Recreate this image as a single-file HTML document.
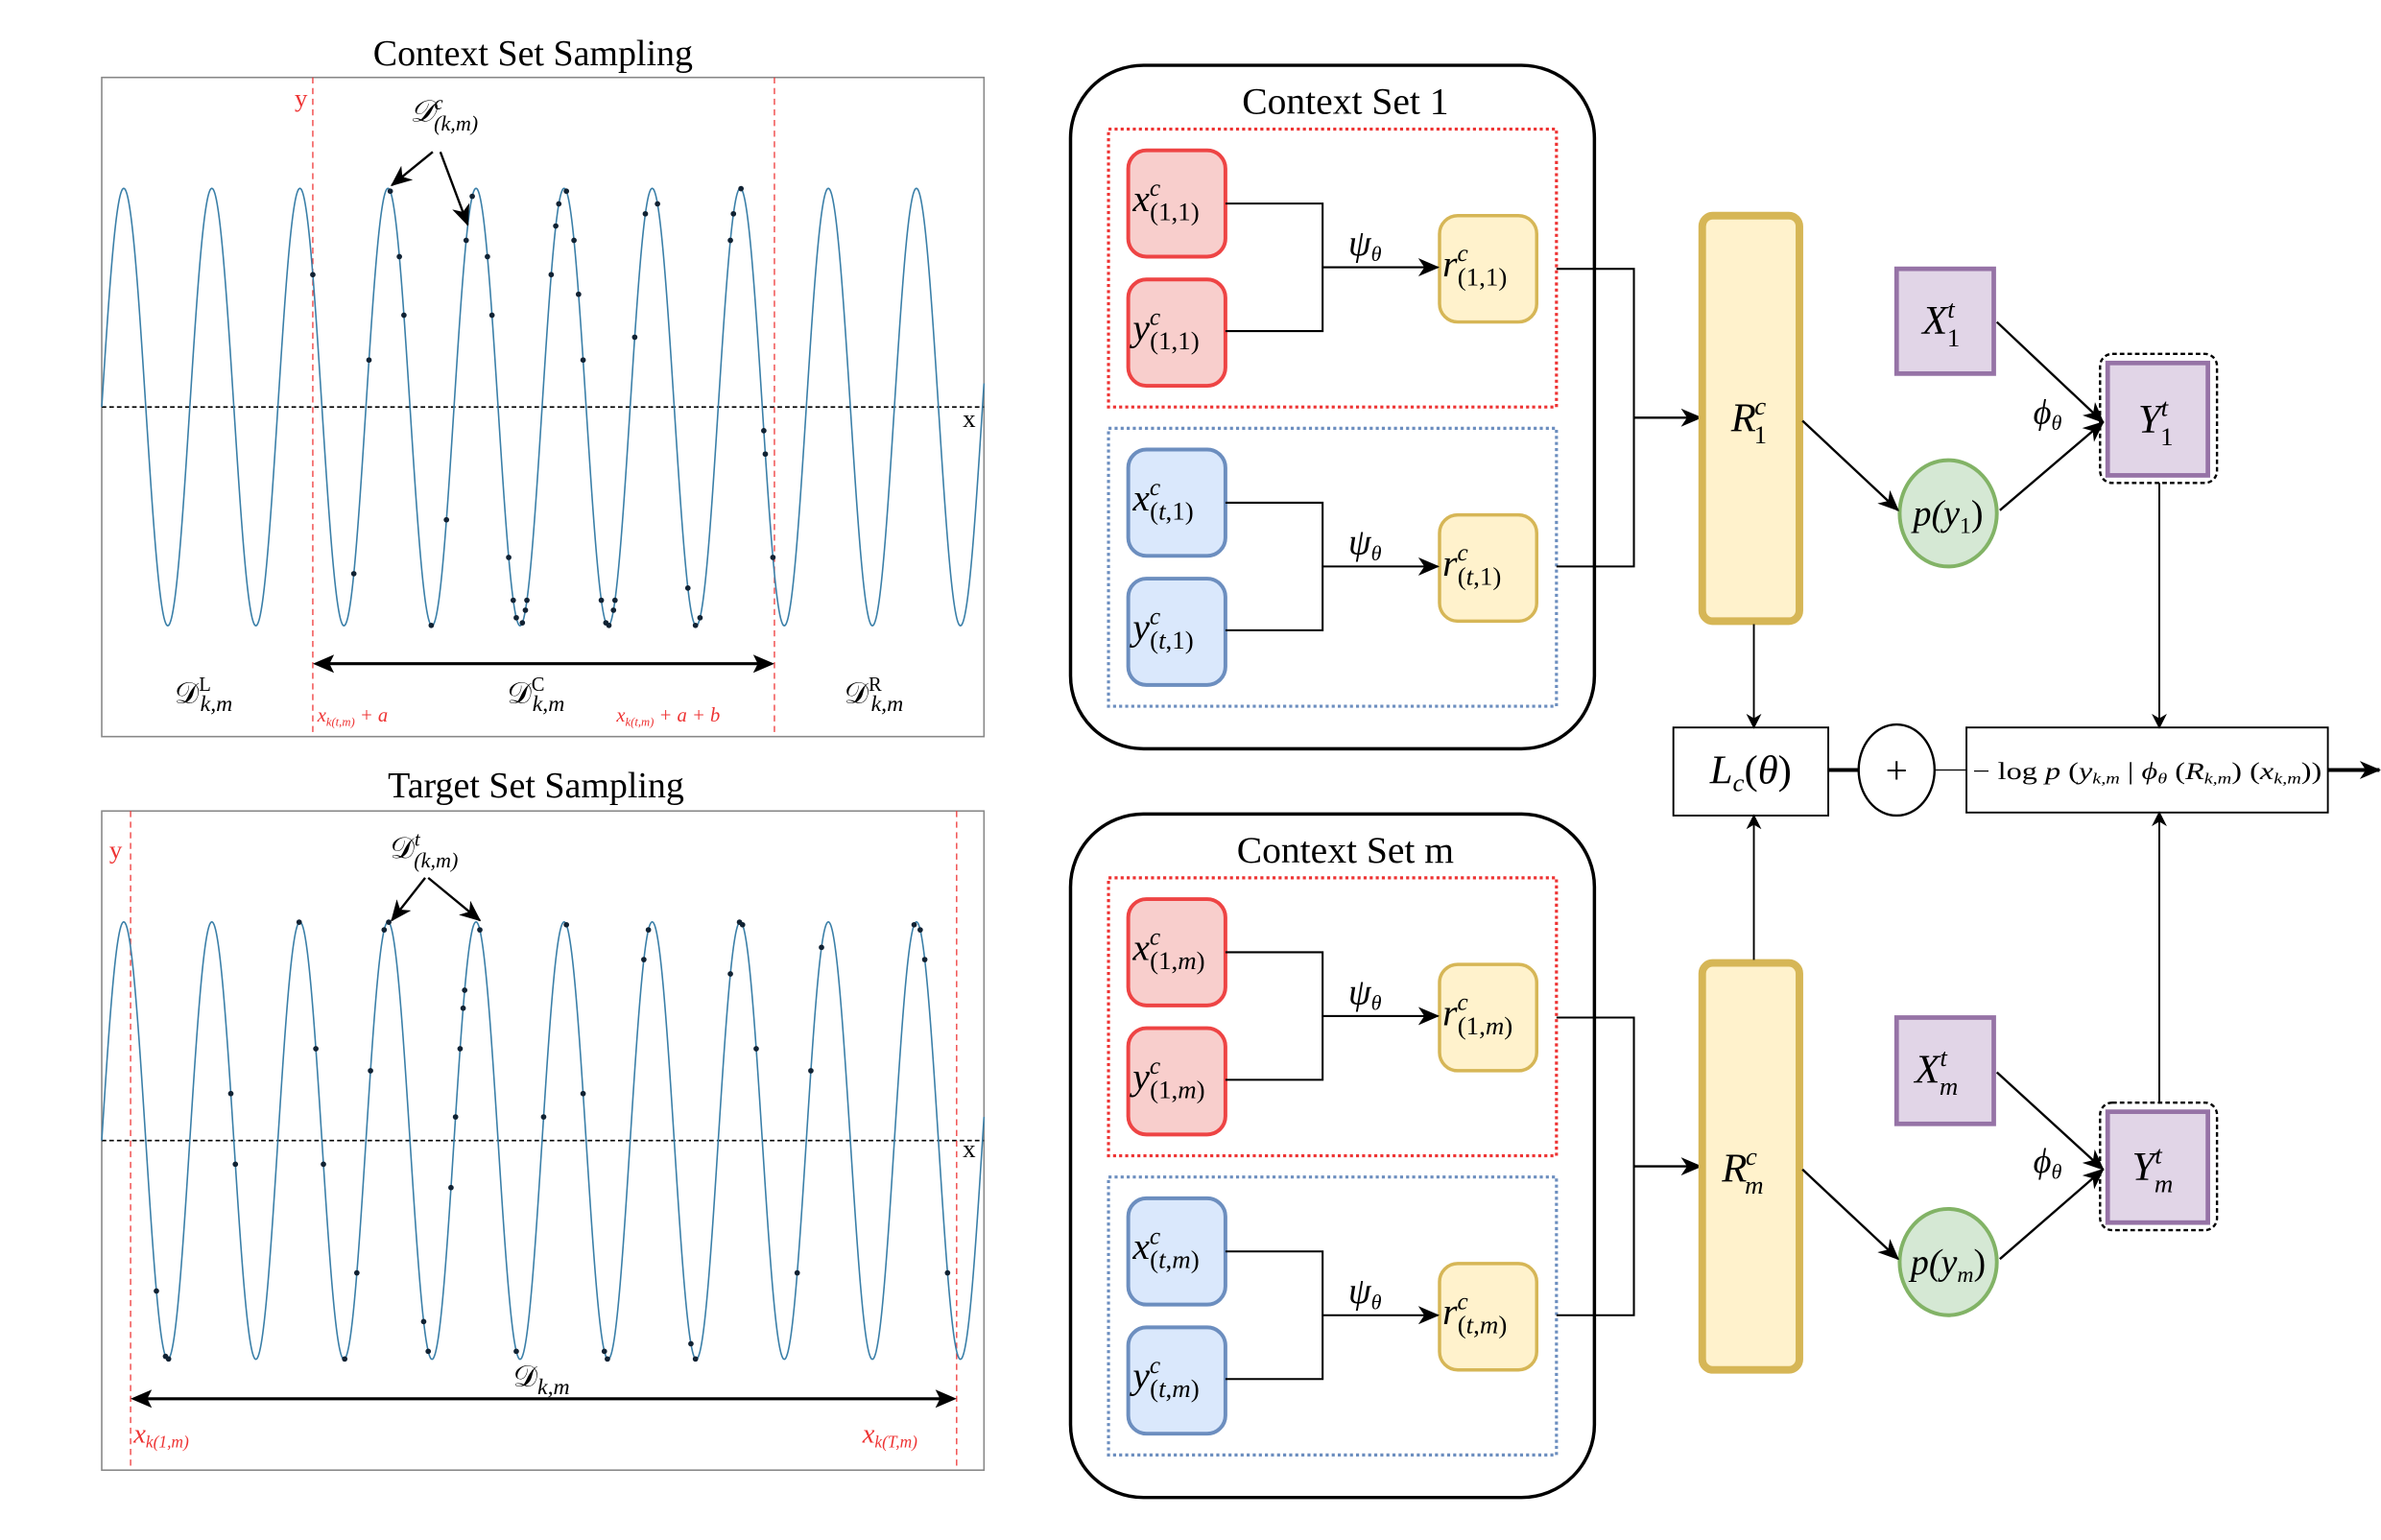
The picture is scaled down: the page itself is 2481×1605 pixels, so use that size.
<!DOCTYPE html>
<html><head><meta charset="utf-8"><style>
html,body{margin:0;padding:0;background:#fff}
svg{display:block}
text{font-family:"Liberation Serif",serif;fill:#000}
.m{font-style:italic}
.u{font-style:normal}
</style></head><body>
<svg id="s" width="2481" height="1605" viewBox="0 0 1568 1014" preserveAspectRatio="none" xmlns="http://www.w3.org/2000/svg">
<defs>
<marker id="a" markerWidth="10" markerHeight="10" refX="9" refY="5" orient="auto" markerUnits="userSpaceOnUse"><path d="M0,0 L10,5 L0,10 L3,5 z" fill="#000"/></marker>
<marker id="b" markerWidth="14" markerHeight="12" refX="13" refY="6" orient="auto" markerUnits="userSpaceOnUse"><path d="M0,0 L14,6 L0,12 L4,6 z" fill="#000"/></marker>
</defs>

<!-- LEFT TOP PLOT -->
<text x="351" y="43" font-size="24" text-anchor="middle">Context Set Sampling</text>
<rect x="67" y="51" width="581" height="434" fill="none" stroke="#888" stroke-width="1"/>
<line x1="67" y1="268" x2="648" y2="268" stroke="#000" stroke-dasharray="3,2" stroke-width="1"/>
<line x1="206" y1="51" x2="206" y2="485" stroke="#e33" stroke-dasharray="4,3" stroke-width="0.8"/>
<line x1="510" y1="51" x2="510" y2="485" stroke="#e33" stroke-dasharray="4,3" stroke-width="0.8"/>
<path id="sin1" fill="none" stroke="#3a7fa8" stroke-width="1"/>
<g id="dots1" fill="#112233"></g>
<text x="194" y="70" font-size="17" style="fill:#e33">y</text>
<text x="634" y="281" font-size="17">x</text>
<text x="270" y="80" font-size="20" class="m">𝒟<tspan font-size="13" dy="-8">c</tspan><tspan font-size="14" dx="-6" dy="14">(k,m)</tspan></text>
<line x1="285" y1="100" x2="258" y2="122" stroke="#000" stroke-width="1.5" marker-end="url(#b)"/>
<line x1="290" y1="100" x2="308" y2="148" stroke="#000" stroke-width="1.5" marker-end="url(#b)"/>
<line x1="216" y1="437" x2="500" y2="437" stroke="#000" stroke-width="2"/>
<path d="M206,437 L220,431 L217,437 L220,443 z M510,437 L496,431 L499,437 L496,443 z" fill="#000"/>
<text x="115" y="463" font-size="20">𝒟<tspan font-size="13" dy="-8">L</tspan><tspan font-size="15" class="m" dx="-7" dy="13">k,m</tspan></text>
<text x="334" y="463" font-size="20">𝒟<tspan font-size="13" dy="-8">C</tspan><tspan font-size="15" class="m" dx="-8" dy="13">k,m</tspan></text>
<text x="556" y="463" font-size="20">𝒟<tspan font-size="13" dy="-8">R</tspan><tspan font-size="15" class="m" dx="-7" dy="13">k,m</tspan></text>
<text x="209" y="475" font-size="13" style="fill:#e33" class="m">x<tspan font-size="8" dy="3">k(t,m)</tspan><tspan dy="-3"> + a</tspan></text>
<text x="406" y="475" font-size="13" style="fill:#e33" class="m">x<tspan font-size="8" dy="3">k(t,m)</tspan><tspan dy="-3"> + a + b</tspan></text>

<!-- LEFT BOTTOM PLOT -->
<text x="353" y="525" font-size="24" text-anchor="middle">Target Set Sampling</text>
<rect x="67" y="534" width="581" height="434" fill="none" stroke="#888" stroke-width="1"/>
<line x1="67" y1="751" x2="648" y2="751" stroke="#000" stroke-dasharray="3,2" stroke-width="1"/>
<line x1="86" y1="534" x2="86" y2="968" stroke="#e33" stroke-dasharray="4,3" stroke-width="0.8"/>
<line x1="630" y1="534" x2="630" y2="968" stroke="#e33" stroke-dasharray="4,3" stroke-width="0.8"/>
<path id="sin2" fill="none" stroke="#3a7fa8" stroke-width="1"/>
<g id="dots2" fill="#112233"></g>
<text x="72" y="565" font-size="17" style="fill:#e33">y</text>
<text x="634" y="762" font-size="17">x</text>
<text x="257" y="565" font-size="20">𝒟<tspan font-size="13" class="m" dy="-8">t</tspan><tspan font-size="14" class="m" dx="-4" dy="14">(k,m)</tspan></text>
<line x1="280" y1="578" x2="258" y2="606" stroke="#000" stroke-width="1.5" marker-end="url(#b)"/>
<line x1="282" y1="578" x2="316" y2="606" stroke="#000" stroke-width="1.5" marker-end="url(#b)"/>
<line x1="96" y1="921" x2="620" y2="921" stroke="#000" stroke-width="2"/>
<path d="M86,921 L100,915 L97,921 L100,927 z M630,921 L616,915 L619,921 L616,927 z" fill="#000"/>
<text x="338" y="913" font-size="20">𝒟<tspan font-size="15" class="m" dy="5">k,m</tspan></text>
<text x="88" y="950" font-size="18" style="fill:#e33" class="m">x<tspan font-size="11" dy="3">k(1,m)</tspan></text>
<text x="568" y="950" font-size="18" style="fill:#e33" class="m">x<tspan font-size="11" dy="3">k(T,m)</tspan></text>

<g id="cs"></g>

<rect x="1121" y="142" width="64" height="267" rx="7" fill="#fff2cc" stroke="#d6b656" stroke-width="5"/>
<text x="1140" y="284" font-size="27" class="m">R<tspan font-size="17" dx="-1" dy="-11">c</tspan><tspan font-size="17" class="u" dx="-8" dy="19">1</tspan></text>
<rect x="1121" y="634" width="64" height="268" rx="7" fill="#fff2cc" stroke="#d6b656" stroke-width="5"/>
<text x="1134" y="778" font-size="27" class="m">R<tspan font-size="17" dx="-1" dy="-11">c</tspan><tspan font-size="17" dx="-8" dy="19">m</tspan></text>

<rect x="1249" y="177" width="64" height="69" fill="#e1d5e7" stroke="#9673a6" stroke-width="3"/>
<text x="1266" y="220" font-size="27" class="m">X<tspan font-size="17" dy="-11">t</tspan><tspan font-size="17" class="u" dx="-5" dy="19">1</tspan></text>
<rect x="1383" y="233" width="77" height="85" rx="8" fill="none" stroke="#000" stroke-dasharray="3,2" stroke-width="1.5"/>
<rect x="1388" y="239" width="66" height="74" fill="#e1d5e7" stroke="#9673a6" stroke-width="3"/>
<text x="1408" y="285" font-size="27" class="m">Y<tspan font-size="17" dy="-11">t</tspan><tspan font-size="17" class="u" dx="-5" dy="19">1</tspan></text>
<ellipse cx="1283" cy="338" rx="32" ry="35" fill="#d5e8d4" stroke="#82b366" stroke-width="2.5"/>
<text x="1283" y="346" font-size="24" text-anchor="middle" class="m">p(y<tspan font-size="15" class="u" dy="5">1</tspan><tspan class="u" dy="-5">)</tspan></text>

<rect x="1249" y="670" width="64" height="70" fill="#e1d5e7" stroke="#9673a6" stroke-width="3"/>
<text x="1261" y="713" font-size="27" class="m">X<tspan font-size="17" dy="-11">t</tspan><tspan font-size="17" dx="-5" dy="19">m</tspan></text>
<rect x="1383" y="726" width="77" height="84" rx="8" fill="none" stroke="#000" stroke-dasharray="3,2" stroke-width="1.5"/>
<rect x="1388" y="732" width="66" height="73" fill="#e1d5e7" stroke="#9673a6" stroke-width="3"/>
<text x="1404" y="777" font-size="27" class="m">Y<tspan font-size="17" dy="-11">t</tspan><tspan font-size="17" dx="-5" dy="19">m</tspan></text>
<ellipse cx="1283" cy="831" rx="32" ry="35" fill="#d5e8d4" stroke="#82b366" stroke-width="2.5"/>
<text x="1283" y="839" font-size="24" text-anchor="middle" class="m">p(y<tspan font-size="15" dy="5">m</tspan><tspan class="u" dy="-5">)</tspan></text>

<g stroke="#000" stroke-width="1.5" fill="none">
<line x1="1187" y1="277" x2="1250" y2="336" marker-end="url(#b)"/>
<line x1="1315" y1="212" x2="1385" y2="278" marker-end="url(#b)"/>
<line x1="1317" y1="336" x2="1385" y2="278" marker-end="url(#b)"/>
<line x1="1187" y1="770" x2="1250" y2="829" marker-end="url(#b)"/>
<line x1="1315" y1="706" x2="1385" y2="770" marker-end="url(#b)"/>
<line x1="1317" y1="829" x2="1385" y2="770" marker-end="url(#b)"/>
</g>
<text x="1339" y="279" font-size="23" class="m">ϕ<tspan font-size="14" dy="4">θ</tspan></text>
<text x="1339" y="772" font-size="23" class="m">ϕ<tspan font-size="14" dy="4">θ</tspan></text>

<rect x="1102" y="479" width="102" height="58" fill="#fff" stroke="#000" stroke-width="1.2"/>
<text x="1153" y="516" font-size="27" text-anchor="middle" class="m">L<tspan font-size="17" dy="5">c</tspan><tspan class="u" dy="-5">(</tspan>θ<tspan class="u">)</tspan></text>
<ellipse cx="1249" cy="507" rx="25" ry="30" fill="#fff" stroke="#000" stroke-width="1.5"/>
<text x="1249" y="516" font-size="26" text-anchor="middle">+</text>
<rect x="1295" y="479" width="238" height="56" fill="#fff" stroke="#000" stroke-width="1.2"/>
<text x="1414" y="513" font-size="16" text-anchor="middle" textLength="230" lengthAdjust="spacingAndGlyphs">− log <tspan class="m">p</tspan> (<tspan class="m">y<tspan font-size="10" dy="3">k,m</tspan></tspan><tspan dy="-3"> | </tspan><tspan class="m">ϕ<tspan font-size="10" dy="3">θ</tspan></tspan><tspan dy="-3"> (</tspan><tspan class="m">R<tspan font-size="10" dy="3">k,m</tspan></tspan><tspan dy="-3">) (</tspan><tspan class="m">x<tspan font-size="10" dy="3">k,m</tspan></tspan><tspan dy="-3">))</tspan></text>
<g stroke="#000" fill="none">
<line x1="1204" y1="507" x2="1224" y2="507" stroke-width="2.5"/>
<line x1="1274" y1="507" x2="1295" y2="507" stroke-width="0.8"/>
<line x1="1533" y1="507" x2="1567" y2="507" stroke-width="2.5" marker-end="url(#b)"/>
<line x1="1155" y1="411" x2="1155" y2="479" stroke-width="1.2" marker-end="url(#a)"/>
<line x1="1155" y1="632" x2="1155" y2="537" stroke-width="1.2" marker-end="url(#a)"/>
<line x1="1422" y1="318" x2="1422" y2="479" stroke-width="1.2" marker-end="url(#a)"/>
<line x1="1422" y1="726" x2="1422" y2="535" stroke-width="1.2" marker-end="url(#a)"/>
</g>
</svg>
<script>
(function(){
var NS="http://www.w3.org/2000/svg";
function sine(id,z,A){var d="";for(var x=67;x<=648;x+=0.5){var y=z-A*Math.sin(2*Math.PI*(x-67)/58);d+=(x==67?"M":"L")+x.toFixed(1)+","+y.toFixed(2);}document.getElementById(id).setAttribute("d",d);}
sine("sin1",268,144);sine("sin2",751,144);
function dots(id,z,A,xs){var g=document.getElementById(id);xs.forEach(function(x){var c=document.createElementNS(NS,"circle");c.setAttribute("cx",x);c.setAttribute("cy",z-A*Math.sin(2*Math.PI*(x-67)/58));c.setAttribute("r",1.8);g.appendChild(c);});}
dots("dots1",268,144,[206,233,243,257,263,266,284,294,307,311,321,324,335,338,340,344,346,347,363,366,368,373,378,381,384,396,399,401,404,405,418,425,433,453,458,461,481,483,488,503,504,509]);
dots("dots2",751,144,[103,109,111,152,155,197,208,213,227,235,244,253,256,279,282,297,300,303,305,306,316,340,358,373,384,398,400,424,427,455,458,481,487,489,498,525,534,541,602,606,609,624]);
var cs=document.getElementById("cs");var h="";
function node(x,y,w,hh,f,s,sw){return '<rect x="'+x+'" y="'+y+'" width="'+w+'" height="'+hh+'" rx="12" fill="'+f+'" stroke="'+s+'" stroke-width="'+sw+'"/>';}
function lab(x,y,v,sub){var p=sub.replace(/([0-9]+)/g,'<tspan class="u">$1</tspan>').replace(/([(),])/g,'<tspan class="u">$1</tspan>');return '<text x="'+x+'" y="'+y+'" font-size="25" class="m">'+v+'<tspan font-size="16" dy="-10">c</tspan><tspan font-size="17" dx="-7" dy="16">'+p+'</tspan></text>';}
function set(o,title,s1,s2){
h+='<rect x="705" y="'+(43+o)+'" width="345" height="450" rx="48" fill="#fff" stroke="#000" stroke-width="2.2"/>';
h+='<text x="886" y="'+(75+o)+'" font-size="25" text-anchor="middle">'+title+'</text>';
h+='<rect x="730" y="'+(85+o)+'" width="295" height="183" fill="none" stroke="#e33" stroke-width="2" stroke-dasharray="2,2"/>';
h+='<rect x="730" y="'+(282+o)+'" width="295" height="183" fill="none" stroke="#6c8ebf" stroke-width="2" stroke-dasharray="2,2"/>';
[[99,"x",s1,"#f8cecc","#e44"],[184,"y",s1,"#f8cecc","#e44"],[296,"x",s2,"#dae8fc","#6c8ebf"],[381,"y",s2,"#dae8fc","#6c8ebf"]].forEach(function(n){
 h+=node(743,n[0]+o,64,70,n[3],n[4],2.5);h+=lab(746,n[0]+o+40,n[1],n[2]);});
[[142,s1],[339,s2]].forEach(function(r){h+=node(948,r[0]+o,64,70,"#fff2cc","#d6b656",2.2);h+=lab(950,r[0]+o+40,"r",r[1]);});
[[134,218,176],[331,415,373]].forEach(function(l){
 h+='<path d="M807,'+(l[0]+o)+' H871 V'+(l[1]+o)+' H807" fill="none" stroke="#000" stroke-width="1.3"/>';
 h+='<line x1="871" y1="'+(l[2]+o)+'" x2="947" y2="'+(l[2]+o)+'" stroke="#000" stroke-width="1.3" marker-end="url(#b)"/>';
 h+='<text x="888" y="'+(l[2]+o-8)+'" font-size="24" class="m">ψ<tspan font-size="14" dy="4">θ</tspan></text>';});
h+='<path d="M1025,'+(177+o)+' H1076 V'+(373+o)+' H1025" fill="none" stroke="#000" stroke-width="1.3"/>';
h+='<line x1="1076" y1="'+(275+o)+'" x2="1120" y2="'+(275+o)+'" stroke="#000" stroke-width="1.5" marker-end="url(#b)"/>';
}
set(0,"Context Set 1","(1,1)","(t,1)");
set(493,"Context Set m","(1,m)","(t,m)");
cs.innerHTML=h;
})();
</script>
</body></html>
